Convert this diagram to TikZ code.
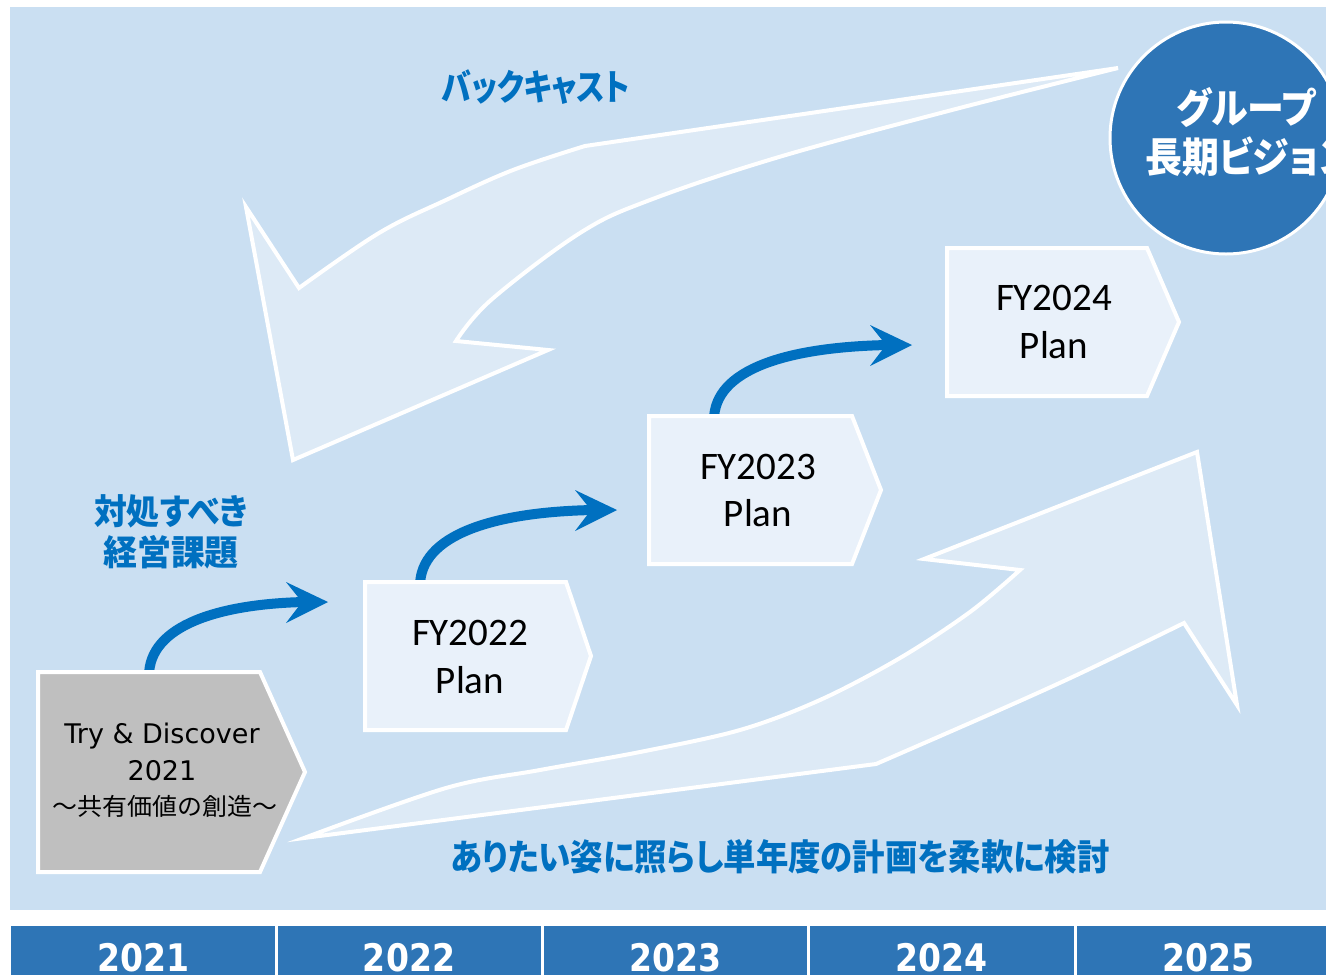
\documentclass[tikz,border=0pt]{standalone}
\usepackage{fontspec}
\usepackage{graphicx}
\setmainfont{DejaVu Sans}
\newfontfamily\boxfont{Carlito}
\newfontfamily\tdfont{DejaVu Sans}
\newfontfamily\yearfont[FakeStretch=0.87]{DejaVu Sans}
\newfontfamily\jpb[RawFeature={+palt}]{Noto Sans CJK JP}
\newfontfamily\jpr{Noto Sans CJK JP}
\definecolor{panel}{HTML}{CADFF2}
\definecolor{bigarrow}{HTML}{DDEAF6}
\definecolor{boxfill}{HTML}{E9F1FA}
\definecolor{grayfill}{HTML}{BFBFBF}
\definecolor{darkblue}{HTML}{2E75B6}
\definecolor{textblue}{HTML}{0070C0}
\begin{document}
\begin{tikzpicture}[x=1pt,y=-1pt,
  bigarrowstyle/.style={fill=bigarrow,draw=white,line width=4pt,line join=miter},
  boxstyle/.style={fill=boxfill,draw=white,line width=4pt,line join=miter},
  graybox/.style={fill=grayfill,draw=white,line width=4pt,line join=miter},
  flowline/.style={draw=textblue,line width=10pt},
  flowhead/.style={fill=textblue},
  planlabel/.style={font=\boxfont\fontsize{39pt}{46pt}\selectfont,anchor=base,inner sep=0pt},
  tdlabel/.style={font=\tdfont\fontsize{27pt}{32pt}\selectfont,anchor=base,inner sep=0pt},
  bluelabel/.style={font=\jpb\bfseries\fontsize{36pt}{40pt}\selectfont,text=textblue,inner sep=0pt},
  visionlabel/.style={font=\jpb\bfseries\fontsize{41pt}{46pt}\selectfont,text=white,inner sep=0pt},
  yearlabel/.style={font=\yearfont\bfseries\fontsize{38pt}{44pt}\selectfont,text=white,anchor=base,inner sep=0pt,text depth=0pt}
]
\useasboundingbox (0,0) rectangle (1326,975);
\clip (0,0) rectangle (1326,975);
\fill[white] (0,0) rectangle (1326,975);
% panel
\fill[panel] (10,7) rectangle (1340,910);
% bottom year bar
\fill[darkblue] (11,926) rectangle (1340,985);
\foreach \xx in {276,542,808,1075} \draw[white,line width=3pt] (\xx,926) -- (\xx,985);
\node[yearlabel] (y1) at (143.5,971) {2021};
\node[yearlabel] (y2) at (409,971) {2022};
\node[yearlabel] (y3) at (675,971) {2023};
\node[yearlabel] (y4) at (941.5,971) {2024};
\node[yearlabel] (y5) at (1208,971) {2025};
% backcast arrow
\draw[bigarrowstyle] (1118,68) -- (585,146)
  -- plot[smooth,tension=0.6] coordinates {(585,146) (513,170) (446,200) (379,233) (299,288)}
  -- (246,207) -- (293,460) -- (548,350) -- (456,341)
  -- plot[smooth,tension=0.6] coordinates {(456,341) (491,300) (580,233) (650,200) (779,157) (952,110) (1118,68)}
  -- cycle;
% forward arrow
\draw[bigarrowstyle] (304,838) -- (876,764)
  -- plot[smooth,tension=0.6] coordinates {(876,764) (995,712) (1081,673) (1184,623)}
  -- (1237,705) -- (1197,452) -- (924,559) -- (1020,570)
  -- plot[smooth,tension=0.55] coordinates {(1020,570) (970,612) (900,658) (820,700) (740,730) (640,752) (540,770) (446,788) (304,838)}
  -- cycle;
% vision circle
\node[circle,fill=darkblue,draw=white,line width=3pt,minimum size=232pt,inner sep=0pt] (vision) at (1226,138) {};
\node[visionlabel] (v1) at (1246,108) {\scalebox{0.9}[1]{グループ}};
\node[visionlabel] (v2) at (1249,157) {\scalebox{0.9}[1]{長期ビジョン}};
% labels
\node[bluelabel] (backcast) at (536,87) {\scalebox{0.83}[1]{バックキャスト}};
\node[bluelabel,font=\jpb\bfseries\fontsize{35pt}{40pt}\selectfont] (issue1) at (171,511) {\scalebox{0.94}[1]{対処すべき}};
\node[bluelabel,font=\jpb\bfseries\fontsize{35pt}{40pt}\selectfont] (issue2) at (171,552) {\scalebox{0.97}[1]{経営課題}};
\node[bluelabel] (flex) at (780,857) {\scalebox{0.9}[1]{ありたい姿に照らし単年度の計画を柔軟に検討}};
% curved blue arrows (start points on box tops)
\coordinate (s1) at (149,676); \coordinate (n1) at (304,602); \coordinate (t1) at (328,602);
\coordinate (s2) at (420,586); \coordinate (n2) at (593,510); \coordinate (t2) at (617,510);
\coordinate (s3) at (714,420); \coordinate (n3) at (888,345); \coordinate (t3) at (912,345);
\draw[flowline] (s1) .. controls +(0,-51) and +(-84,2) .. (n1);
\fill[flowhead] (t1) -- +(-42,-20) -- +(-26,0) -- +(-42,21) -- cycle;
\draw[flowline] (s2) .. controls +(0,-51) and +(-100,2) .. (n2);
\fill[flowhead] (t2) -- +(-42,-20) -- +(-26,0) -- +(-42,21) -- cycle;
\draw[flowline] (s3) .. controls +(0,-51) and +(-100,2) .. (n3);
\fill[flowhead] (t3) -- +(-42,-20) -- +(-26,0) -- +(-42,21) -- cycle;
% boxes
\draw[graybox] (38,672) -- (260,672) -- (305,772) -- (260,872) -- (38,872) -- cycle;
\draw[boxstyle] (365,582) -- (566,582) -- (591,656) -- (566,730) -- (365,730) -- cycle;
\draw[boxstyle] (649,416) -- (852,416) -- (881,490) -- (852,564) -- (649,564) -- cycle;
\draw[boxstyle] (947,248) -- (1147,248) -- (1179,322) -- (1147,396) -- (947,396) -- cycle;
% box texts
\node[tdlabel] (td1) at (162,743) {Try \& Discover};
\node[tdlabel] (td2) at (162,780) {2021};
\node[anchor=base,inner sep=0pt,font=\jpr\fontsize{24pt}{28pt}\selectfont] (td3) at (165,815) {\scalebox{1.04}[1]{～共有価値の創造～}};
\node[planlabel] (p2a) at (470,645) {FY2022};
\node[planlabel] (p2b) at (470,693) {Plan};
\node[planlabel] (p3a) at (758,479) {FY2023};
\node[planlabel] (p3b) at (758,526) {Plan};
\node[planlabel] (p4a) at (1054,310) {FY2024};
\node[planlabel] (p4b) at (1054,358) {Plan};
\end{tikzpicture}
\end{document}
